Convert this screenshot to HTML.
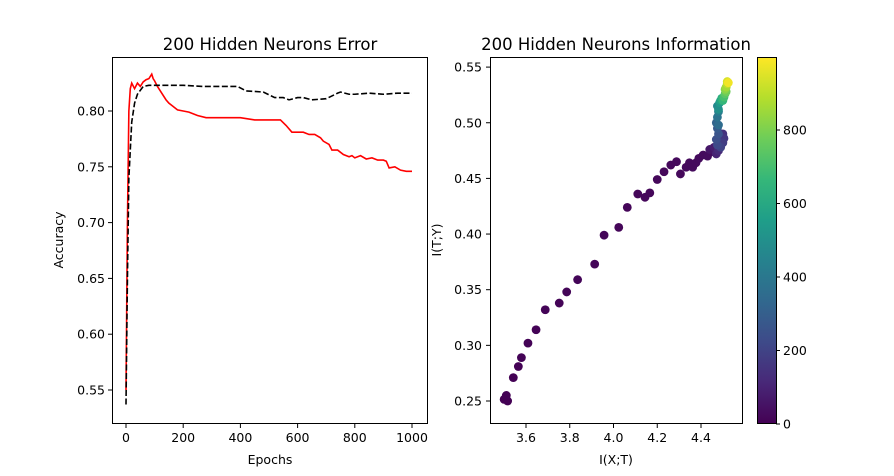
<!DOCTYPE html>
<html><head><meta charset="utf-8"><style>body{margin:0;background:#fff}svg{display:block;font-family:"DejaVu Sans","Liberation Sans",sans-serif}</style></head>
<body>
<svg id="c" width="894" height="476"></svg>
<script>
// Left chart data
const redEpochs=[0,5,10,15,20,30,40,50,60,70,80,90,95,100,110,120,140,150,160,180,200,220,250,280,300,400,450,500,540,560,580,620,640,660,680,690,710,720,740,760,780,790,800,820,840,860,880,900,910,920,940,960,980,1000];
const redVals=[0.55,0.70,0.80,0.82,0.825,0.82,0.825,0.822,0.826,0.828,0.829,0.833,0.829,0.827,0.822,0.818,0.81,0.807,0.805,0.801,0.80,0.799,0.796,0.794,0.794,0.794,0.792,0.792,0.792,0.787,0.781,0.781,0.779,0.779,0.776,0.773,0.77,0.765,0.765,0.761,0.759,0.76,0.758,0.76,0.757,0.758,0.756,0.756,0.755,0.749,0.75,0.747,0.746,0.746];
const blackEpochs=[0,5,10,20,30,40,60,80,100,200,270,300,390,420,480,520,550,570,600,620,650,700,740,750,780,800,850,900,950,1000];
const blackVals=[0.537,0.65,0.74,0.79,0.807,0.815,0.822,0.823,0.823,0.823,0.822,0.822,0.822,0.818,0.817,0.812,0.812,0.81,0.812,0.812,0.81,0.811,0.816,0.817,0.815,0.815,0.816,0.815,0.816,0.816];
const leftXTicks=[0,200,400,600,800,1000];
const leftYTicks=[0.55,0.60,0.65,0.70,0.75,0.80];
// Right chart data
const ixt=[3.50,3.516,3.51,3.542,3.565,3.579,3.609,3.646,3.688,3.752,3.786,3.836,3.914,3.957,4.024,4.063,4.111,4.144,4.166,4.20,4.231,4.262,4.288,4.306,4.332,4.347,4.362,4.377,4.39,4.41,4.43,4.45,
4.44,4.46,4.47,4.48,4.50,4.505,4.50,4.49,4.475,4.47,4.48,4.475,4.47,4.48,4.475,4.48,4.475,4.48,4.485,4.49,4.495,4.50,4.505,4.51,4.515,4.51,4.515,4.52,4.52,4.525];
const ity=[0.2515,0.25,0.255,0.271,0.281,0.289,0.302,0.314,0.332,0.338,0.348,0.359,0.373,0.399,0.406,0.424,0.436,0.433,0.437,0.449,0.456,0.462,0.465,0.454,0.46,0.464,0.46,0.464,0.468,0.471,0.47,0.474,
0.476,0.478,0.472,0.475,0.49,0.486,0.482,0.478,0.48,0.485,0.49,0.495,0.50,0.498,0.505,0.51,0.515,0.512,0.518,0.52,0.522,0.52,0.523,0.526,0.528,0.53,0.532,0.535,0.537,0.536];
const epochIdx=[0,1,2,3,4,5,6,7,8,9,10,11,12,13,14,15,16,17,18,19,20,21,22,23,24,25,26,27,28,29,30,31,
60,80,100,120,140,160,180,200,220,240,260,280,320,350,380,420,460,500,540,580,620,660,700,740,780,820,860,900,940,980];
const rXTicks=[3.6,3.8,4.0,4.2,4.4];
const rYTicks=[0.25,0.30,0.35,0.40,0.45,0.50,0.55];
const cbTicks=[0,200,400,600,800];

const NS="http://www.w3.org/2000/svg",svg=document.getElementById('c');
function el(t,a,p){const e=document.createElementNS(NS,t);for(const k in a)e.setAttribute(k,a[k]);(p||svg).appendChild(e);return e;}
function txt(s,a,p){const e=el('text',a,p);e.textContent=s;return e;}
const lx=v=>126+v*0.286, ly=v=>111+(0.80-v)*1116;
const rx=v=>526+(v-3.6)*218.75, ry=v=>401-(v-0.25)*1113;
const cy=v=>424-v*0.3675;
const vir=[[68,1,84],[72,40,120],[62,74,137],[49,104,142],[38,130,142],[31,158,137],[53,183,121],[109,205,89],[180,222,44],[253,231,37]];
function viridis(t){t=Math.max(0,Math.min(1,t))*9;const i=Math.min(8,Math.floor(t)),f=t-i,a=vir[i],b=vir[i+1];return 'rgb('+a.map((c,k)=>Math.round(c+(b[k]-c)*f)).join(',')+')';}

let e;
e=txt('200 Hidden Neurons Error',{x:270,y:50,'text-anchor':'middle','font-size':16.5});

e=txt('200 Hidden Neurons Information',{x:616,y:50,'text-anchor':'middle','font-size':16.5});


const lg=el('g',{});
e=el('polyline',{points:redEpochs.map((d,i)=>lx(d)+','+ly(redVals[i])).join(' '),fill:'none',stroke:'#f00','stroke-width':1.6},lg);

e=el('polyline',{points:blackEpochs.map((d,i)=>lx(d)+','+ly(blackVals[i])).join(' '),fill:'none',stroke:'#000','stroke-width':1.6,'stroke-dasharray':'6,2.5'},lg);

e=el('rect',{x:112.5,y:57.5,width:315,height:366,fill:'none',stroke:'#000','stroke-width':1},lg);

leftXTicks.forEach(v=>{el('line',{x1:lx(v),x2:lx(v),y1:424,y2:428,stroke:'#000'},lg);
 e=txt(String(v),{x:lx(v),y:442,'text-anchor':'middle','font-size':12.5},lg);});
leftYTicks.forEach(v=>{el('line',{x1:108,x2:112,y1:ly(v),y2:ly(v),stroke:'#000'},lg);
 e=txt(v.toFixed(2),{x:105,y:ly(v)+4.5,'text-anchor':'end','font-size':12.5},lg);});
e=txt('Epochs',{x:270,y:464,'text-anchor':'middle','font-size':12.5},lg);
e=txt('Accuracy',{x:0,y:0,'text-anchor':'middle','font-size':12.5,transform:'translate(63,240) rotate(-90)'},lg);

const rg=el('g',{});
ixt.forEach((x,i)=>{const c=el('circle',{cx:rx(x),cy:ry(ity[i]),r:4.4,fill:viridis(epochIdx[i]/999)},rg);
 });
e=el('rect',{x:490.5,y:57.5,width:252,height:366,fill:'none',stroke:'#000'},rg);
rXTicks.forEach(v=>{el('line',{x1:rx(v),x2:rx(v),y1:424,y2:428,stroke:'#000'},rg);
 e=txt(v.toFixed(1),{x:rx(v),y:442,'text-anchor':'middle','font-size':12.5},rg);});
rYTicks.forEach(v=>{el('line',{x1:486,x2:490,y1:ry(v),y2:ry(v),stroke:'#000'},rg);
 e=txt(v.toFixed(2),{x:482,y:ry(v)+4.5,'text-anchor':'end','font-size':12.5},rg);});
e=txt('I(X;T)',{x:616,y:464,'text-anchor':'middle','font-size':12.5},rg);
e=txt('I(T;Y)',{x:0,y:0,'text-anchor':'middle','font-size':12.5,transform:'translate(441,240) rotate(-90)'},rg);

const cg=el('g',{});
const defs=el('defs',{},cg),gr=el('linearGradient',{id:'vg',x1:0,y1:1,x2:0,y2:0},defs);
vir.forEach((c,i)=>el('stop',{offset:i/9,'stop-color':'rgb('+c.join(',')+')'},gr));
el('rect',{x:757.5,y:57.5,width:19,height:366,fill:'url(#vg)',stroke:'#000'},cg);
cbTicks.forEach(v=>{el('line',{x1:776,x2:780,y1:cy(v),y2:cy(v),stroke:'#000'},cg);
 e=txt(String(v),{x:783,y:cy(v)+4.5,'font-size':12.5},cg);});
</script>
</body></html>
